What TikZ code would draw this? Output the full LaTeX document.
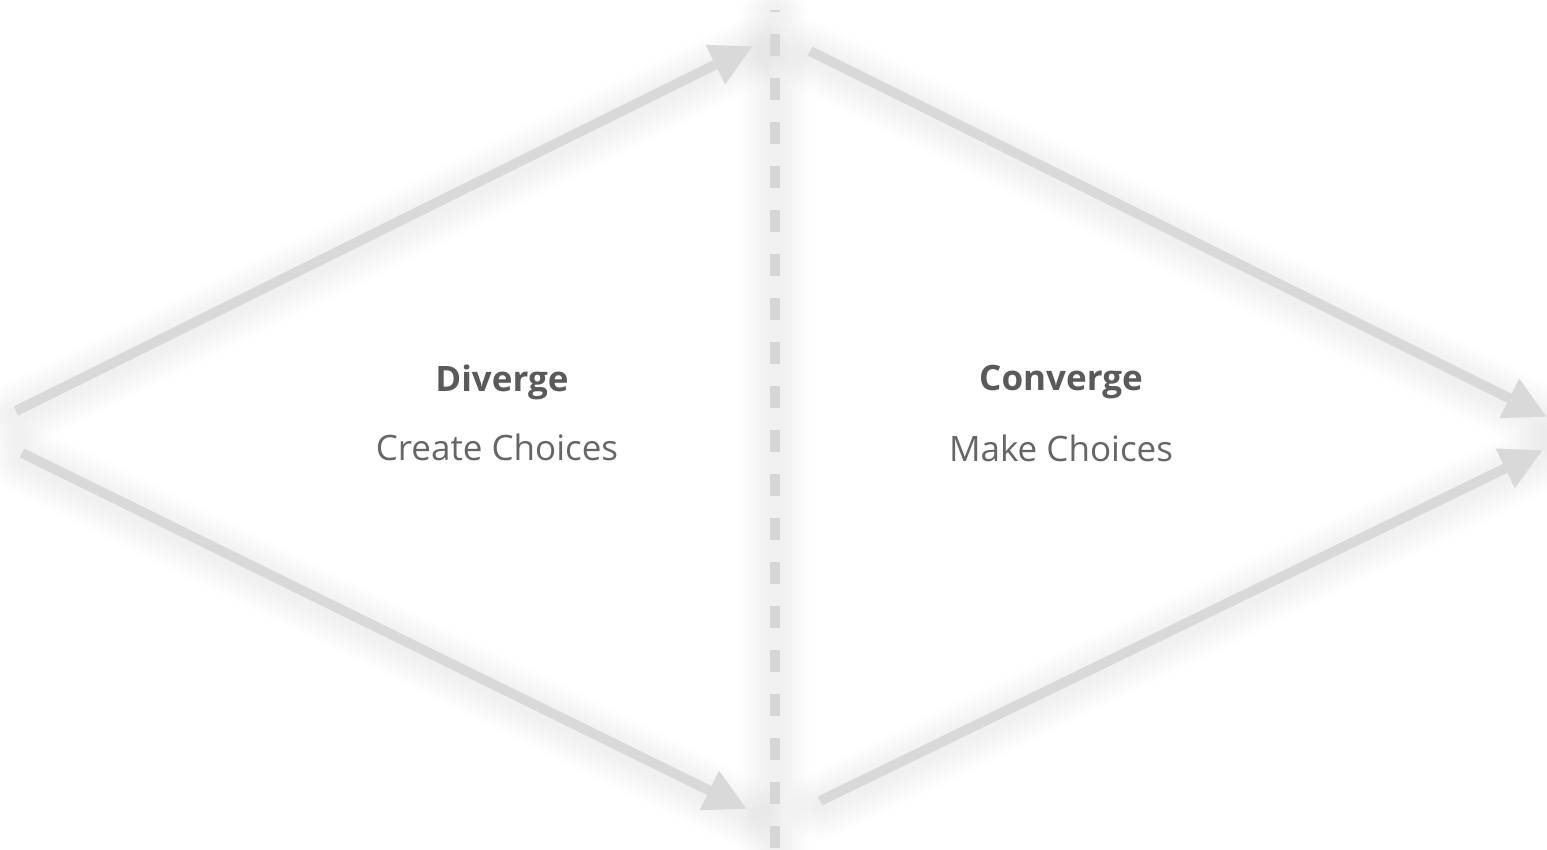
\documentclass[tikz,border=0pt]{standalone}
\usepackage{fontspec}
\setmainfont{Open Sans}
\usetikzlibrary{arrows.meta}
\definecolor{arrowgray}{HTML}{D9D9D9}
\definecolor{dashgray}{HTML}{D6D6D6}
\definecolor{titlegray}{HTML}{5A5A5A}
\definecolor{subgray}{HTML}{666666}
\tikzset{
  flow/.style={draw=arrowgray, line width=10pt, -{Triangle[length=42pt,width=41pt]}},
  softshade/.style={draw=black, opacity=0.0035, line width=#1, line cap=round},
  divider/.style={draw=dashgray, line width=10pt, dash pattern=on 22pt off 22pt, dash phase=20pt},
  title/.style={font=\bfseries\fontsize{35}{40}\selectfont, text=titlegray, inner sep=0pt},
  sub/.style={font=\fontsize{35}{40}\selectfont, text=subgray, inner sep=0pt}
}
\begin{document}
\begin{tikzpicture}[x=1pt,y=-1pt]
\useasboundingbox (0,0) rectangle (1547,850);
\fill[white] (0,0) rectangle (1547,850);
% coordinates
\coordinate (a1s) at (16,411);
\coordinate (a1e) at (753,46);
\coordinate (a2s) at (22,453);
\coordinate (a2e) at (747,809);
\coordinate (a3s) at (810,51);
\coordinate (a3e) at (1547,417);
\coordinate (a4s) at (820,801);
\coordinate (a4e) at (1543,450);
\coordinate (dtop) at (775,10);
\coordinate (dbot) at (775,850);
% soft shadows
\foreach \w in {14,18,...,70}{
  \foreach \s/\e in {a1s/a1e,a2s/a2e,a3s/a3e,a4s/a4e,dtop/dbot}{
    \path[softshade=\w pt] ([yshift=-5pt]\s) -- ([yshift=-5pt]\e);
  }
}
% arrows
\draw[flow] (a1s) -- (a1e);
\draw[flow] (a2s) -- (a2e);
\draw[flow] (a3s) -- (a3e);
\draw[flow] (a4s) -- (a4e);
% divider
\draw[divider] (dtop) -- (dbot);
% labels
\node[title] (div) at (502,382) {Diverge};
\node[sub] (divs) at (497,447) {Create Choices};
\node[title] (con) at (1061,382) {Converge};
\node[sub] (cons) at (1061,448) {Make Choices};
\end{tikzpicture}
\end{document}
